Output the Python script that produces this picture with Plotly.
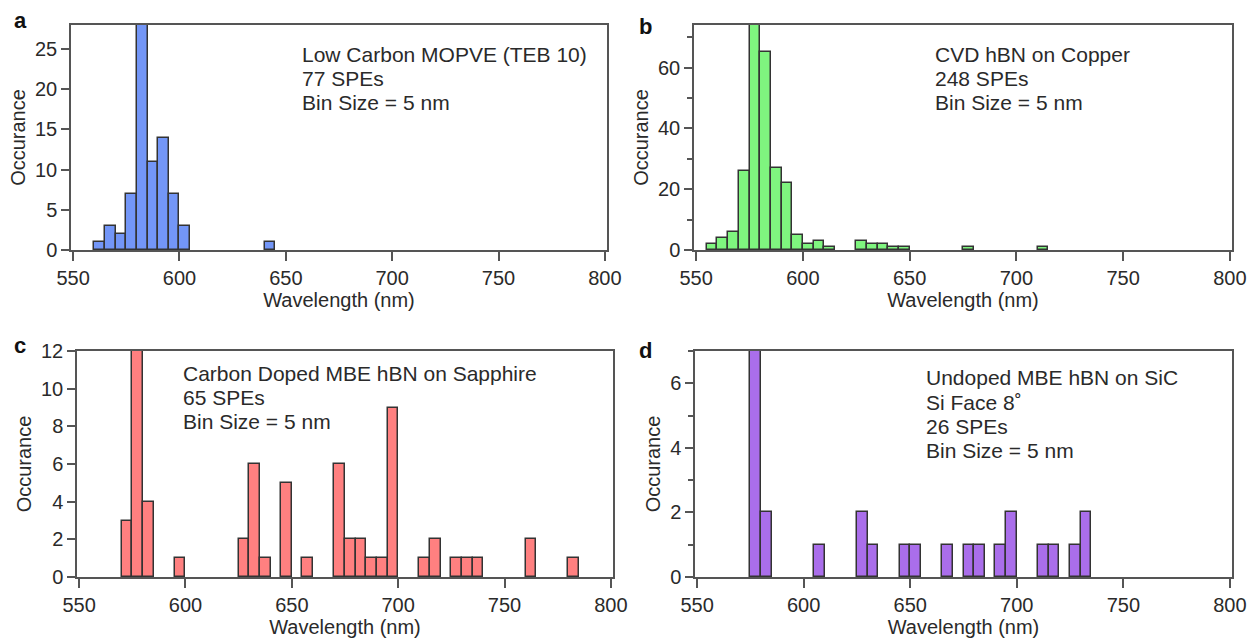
import plotly.graph_objects as go

W, H = 1249, 642

# ---- data (bin start in nm, counts; 5 nm bins) ----
a_bins = [560, 565, 570, 575, 580, 585, 590, 595, 600, 640]
a_counts = [1, 3, 2, 7, 28, 11, 14, 7, 3, 1]

b_bins = [555, 560, 565, 570, 575, 580, 585, 590, 595, 600, 605, 610,
          625, 630, 635, 640, 645, 675, 710]
b_counts = [2, 4, 6, 26, 74, 65, 27, 22, 5, 2, 3, 1,
            3, 2, 2, 1, 1, 1, 1]

c_bins = [570, 575, 580, 595, 625, 630, 635, 645, 655, 670, 675, 680, 685,
          690, 695, 710, 715, 725, 730, 735, 760, 780]
c_counts = [3, 12, 4, 1, 2, 6, 1, 5, 1, 6, 2, 2, 1,
            1, 9, 1, 2, 1, 1, 1, 2, 1]

d_bins = [575, 580, 605, 625, 630, 645, 650, 665, 675, 680, 690, 695,
          710, 715, 725, 730]
d_counts = [7, 2, 1, 2, 1, 1, 1, 1, 1, 1, 1, 2,
            1, 1, 1, 2]

labels = ["a", "b", "c", "d"]
texts = [
    ["Low Carbon MOPVE (TEB 10)", "77 SPEs", "Bin Size = 5 nm"],
    ["CVD hBN on Copper", "248 SPEs", "Bin Size = 5 nm"],
    ["Carbon Doped MBE hBN on Sapphire", "65 SPEs", "Bin Size = 5 nm"],
    ["Undoped MBE hBN on SiC", "Si Face 8\u02da", "26 SPEs", "Bin Size = 5 nm"],
]
colors = ["#7396f7", "#7ff57f", "#ff8080", "#aa6eeb"]
y_max = [28, 74, 12, 7]
y_dtick = [5, 20, 2, 2]
y_minor = [None, 10, None, 1]
x_tickvals = [550, 600, 650, 700, 750, 800]

# ---- layout in pixels: (left, right, top, bottom) ----
boxes = [(71, 607, 25, 250), (694, 1232, 25, 250),
         (77, 613, 351, 577), (695, 1232, 351, 577)]
text_x = [300, 933, 181, 924]
text_y0 = [54, 55, 373, 378]
line_step = 24
label_pos = [(12, 6), (637, 12), (12, 331), (637, 336)]

FONT = "Liberation Sans, Arial, sans-serif"
INK = "#2a2a2a"
AX = "#555555"


def px(x):
    return x / W


def py(y):
    return 1 - y / H


fig = go.Figure()
data = [(a_bins, a_counts), (b_bins, b_counts), (c_bins, c_counts), (d_bins, d_counts)]
annotations = []
for i, (bins, counts) in enumerate(data):
    xa = "x" if i == 0 else f"x{i+1}"
    ya = "y" if i == 0 else f"y{i+1}"
    fig.add_trace(go.Bar(
        x=bins, y=counts, width=5, offset=0,
        marker=dict(color=colors[i], line=dict(color="#333333", width=1.5)),
        xaxis=xa, yaxis=ya, showlegend=False,
    ))
    l, r, t, b = boxes[i]
    xkey = "xaxis" if i == 0 else f"xaxis{i+1}"
    ykey = "yaxis" if i == 0 else f"yaxis{i+1}"
    fig.update_layout(**{
        xkey: dict(domain=[px(l), px(r)], anchor=ya, range=[549, 801], automargin=False,
                   tickvals=x_tickvals, ticks="outside", ticklen=9, tickwidth=1.5,
                   tickcolor=AX, showline=True, linecolor=AX, linewidth=2,
                   mirror=True, showgrid=False, zeroline=False,
                   tickfont=dict(size=20, color=INK, family=FONT),
                   title=dict(text="Wavelength (nm)", font=dict(size=20, color=INK, family=FONT),
                              standoff=0)),
        ykey: dict(domain=[py(b), py(t)], anchor=xa, range=[0, y_max[i]], automargin=False,
                   dtick=y_dtick[i], tick0=0, ticks="outside", ticklen=8, tickwidth=1.5,
                   tickcolor=AX, showline=True, linecolor=AX, linewidth=1.5,
                   mirror=True, showgrid=False, zeroline=False,
                   tickfont=dict(size=20, color=INK, family=FONT),
                   title=dict(text="Occurance", font=dict(size=20, color=INK, family=FONT),
                              standoff=4)),
    })
    if y_minor[i]:
        fig.layout[ykey].minor = dict(ticks="outside", ticklen=5, tickcolor=AX,
                                      tickwidth=1.5, dtick=y_minor[i])
    for k, line in enumerate(texts[i]):
        annotations.append(dict(x=px(text_x[i]), y=py(text_y0[i] + k * line_step),
                                xref="paper", yref="paper",
                                xanchor="left", yanchor="middle", align="left",
                                showarrow=False, text=line,
                                font=dict(size=21, color=INK, family=FONT)))
    lx, ly = label_pos[i]
    annotations.append(dict(x=px(lx), y=py(ly), xref="paper", yref="paper",
                            xanchor="left", yanchor="top", showarrow=False,
                            text=f"<b>{labels[i]}</b>",
                            font=dict(size=22, color="#111", family=FONT)))

fig.update_layout(width=W, height=H, margin=dict(l=0, r=0, t=0, b=0),
                  paper_bgcolor="white", plot_bgcolor="white",
                  annotations=annotations, bargap=0)
fig.write_html("out.html", config={"displayModeBar": False},
               post_script="document.body.style.margin='0';document.body.style.overflow='hidden';")
